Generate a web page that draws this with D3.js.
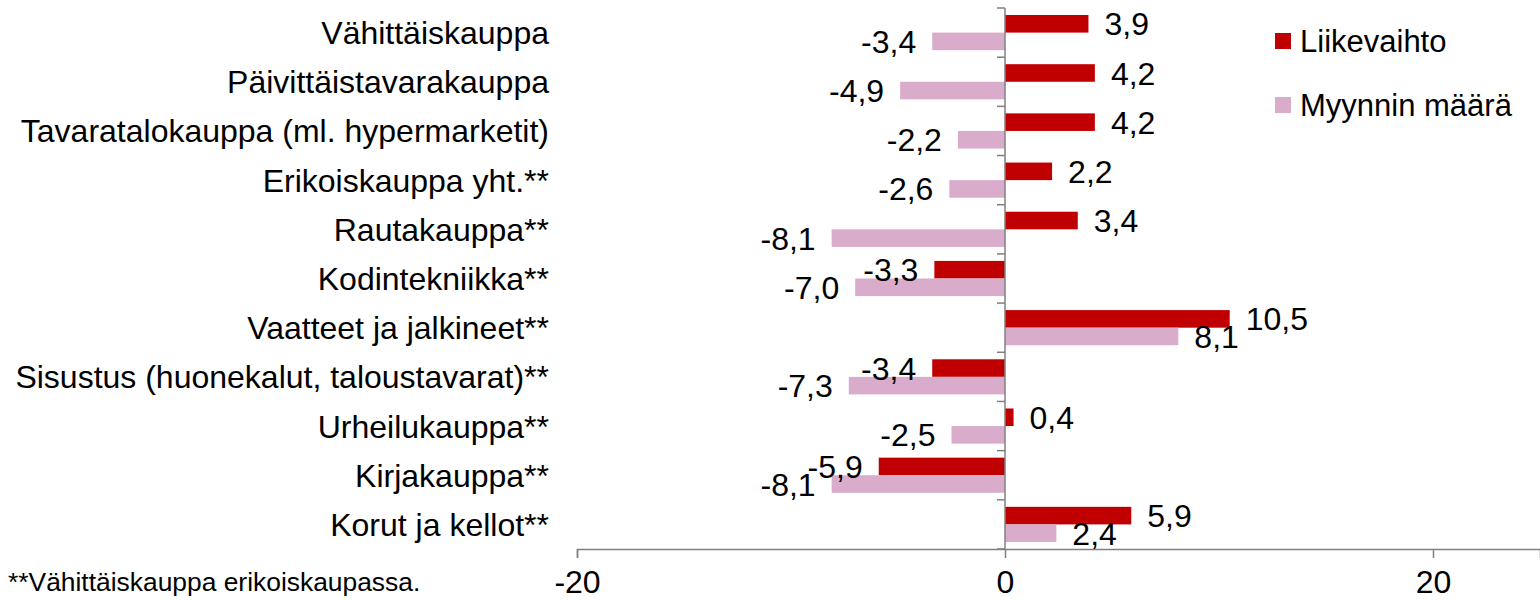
<!DOCTYPE html>
<html>
<head>
<meta charset="utf-8">
<script src="https://cdn.jsdelivr.net/npm/d3@7"></script>
<style>
  body { margin: 0; background: #fff; }
  text { font-family: "Liberation Sans", Arial, sans-serif; fill: #000; }
</style>
</head>
<body>
<script>
/*---------------------------
 DATA
---------------------------*/
var categories = [
  "Vähittäiskauppa",
  "Päivittäistavarakauppa",
  "Tavaratalokauppa (ml. hypermarketit)",
  "Erikoiskauppa yht.**",
  "Rautakauppa**",
  "Kodintekniikka**",
  "Vaatteet ja jalkineet**",
  "Sisustus (huonekalut, taloustavarat)**",
  "Urheilukauppa**",
  "Kirjakauppa**",
  "Korut ja kellot**"
];
var liikevaihto = [3.9, 4.2, 4.2, 2.2, 3.4, -3.3, 10.5, -3.4, 0.4, -5.9, 5.9];
var myynninMaara = [-3.4, -4.9, -2.2, -2.6, -8.1, -7.0, 8.1, -7.3, -2.5, -8.1, 2.4];
var seriesNames = ["Liikevaihto", "Myynnin määrä"];
var seriesColors = ["#C00000", "#D9ACCC"];
var xTicks = [-20, 0, 20];
var footnote = "**Vähittäiskauppa erikoiskaupassa.";

// one row per category, holding both series
var rows = categories.map(function(c, i) {
  return { name: c, values: [liikevaihto[i], myynninMaara[i]] };
});

/*---------------------------
 SVG + SCALES
---------------------------*/
var svg = d3.select("body")
            .append("svg")
            .attr("width", 1540)
            .attr("height", 600);

var x = d3.scaleLinear()
          .domain([-20, 25])
          .range([577, 1540]);

var y = d3.scaleBand()
          .domain(categories)
          .range([8, 549])
          .paddingInner(0.285)
          .paddingOuter(0.1425);

var ySub = d3.scaleBand()
             .domain([0, 1])
             .range([0, y.bandwidth()]);

var fmt = function(v) { return d3.format(".1f")(v).replace(".", ",").replace("−", "-"); };

/*---------------------------
 BARS + VALUE LABELS
---------------------------*/
var groups = svg.selectAll("g.cat")
                .data(rows)
                .enter()
                .append("g")
                .attr("class", "cat")
                .attr("transform", function(d) { return "translate(0," + y(d.name) + ")"; });

groups.selectAll("rect")
      .data(function(d) { return d.values; })
      .enter()
      .append("rect")
      .attr("x", function(d) { return x(Math.min(0, d)); })
      .attr("y", function(d, i) { return ySub(i); })
      .attr("width", function(d) { return Math.abs(x(d) - x(0)); })
      .attr("height", ySub.bandwidth())
      .style("fill", function(d, i) { return seriesColors[i]; });

groups.selectAll("text.val")
      .data(function(d) { return d.values; })
      .enter()
      .append("text")
      .attr("class", "val")
      .attr("x", function(d) { return d >= 0 ? x(d) + 16 : x(d) - 16; })
      .attr("y", function(d, i) { return ySub(i) + ySub.bandwidth() / 2; })
      .attr("dy", "0.36em")
      .attr("text-anchor", function(d) { return d >= 0 ? "start" : "end"; })
      .style("font-size", "32px")
      .text(function(d) { return fmt(d); });

/*---------------------------
 AXES
---------------------------*/
var axisColor = "#808080";

// category axis at zero, ticks on the left between categories
var yEdges = categories.map(function(c) { return y(c) - y.step() * 0.1425; });
yEdges.push(549);

svg.append("line")
   .attr("x1", x(0)).attr("x2", x(0))
   .attr("y1", 8).attr("y2", 549)
   .style("stroke", axisColor).style("stroke-width", 1.5);

svg.selectAll("line.ytick")
   .data(yEdges)
   .enter()
   .append("line")
   .attr("class", "ytick")
   .attr("x1", x(0) - 8).attr("x2", x(0))
   .attr("y1", function(d) { return d; })
   .attr("y2", function(d) { return d; })
   .style("stroke", axisColor).style("stroke-width", 1.5);

// value axis along the bottom
var xAxis = d3.axisBottom(x)
              .tickValues(xTicks)
              .tickSize(9)
              .tickPadding(12)
              .tickFormat(function(d) { return d; });

var gx = svg.append("g")
            .attr("transform", "translate(0,549)")
            .call(xAxis);

gx.select(".domain").style("stroke", axisColor).style("stroke-width", 1.5);
gx.selectAll(".tick line").style("stroke", axisColor).style("stroke-width", 1.5);
gx.selectAll(".tick text")
  .style("font-size", "32px")
  .style("font-family", "'Liberation Sans', Arial, sans-serif")
  .attr("fill", "#000");

// category labels
svg.selectAll("text.cat")
   .data(categories)
   .enter()
   .append("text")
   .attr("class", "cat")
   .attr("x", 549)
   .attr("y", function(d) { return y(d) + y.bandwidth() / 2; })
   .attr("dy", "0.36em")
   .attr("text-anchor", "end")
   .style("font-size", "32px")
   .text(function(d) { return d; });

/*---------------------------
 LEGEND + FOOTNOTE
---------------------------*/
var legend = svg.selectAll("g.legend")
                .data(seriesNames)
                .enter()
                .append("g")
                .attr("class", "legend")
                .attr("transform", function(d, i) { return "translate(1275," + (33 + i * 64) + ")"; });

legend.append("rect")
      .attr("width", 16)
      .attr("height", 16)
      .style("fill", function(d, i) { return seriesColors[i]; });

legend.append("text")
      .attr("x", 25)
      .attr("y", 8)
      .attr("dy", "0.36em")
      .style("font-size", "31px")
      .text(function(d) { return d; });

svg.append("text")
   .attr("x", 8)
   .attr("y", 581)
   .attr("dy", "0.36em")
   .style("font-size", "26.4px")
   .text(footnote);
</script>
</body>
</html>
